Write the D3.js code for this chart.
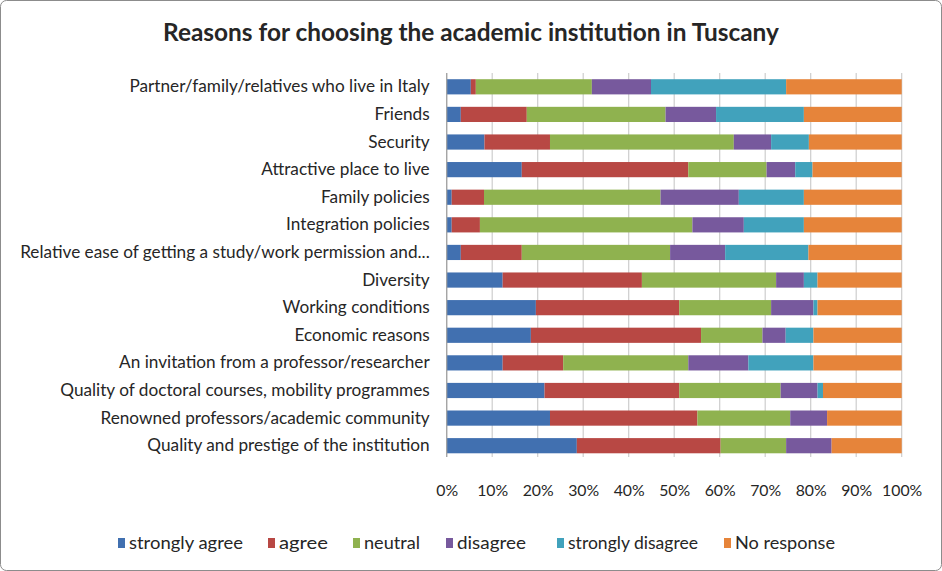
<!DOCTYPE html>
<html><head><meta charset="utf-8">
<script src="https://cdn.jsdelivr.net/npm/d3@7"></script>
<style>
body{margin:0;background:#fff;}
text{font-family:Lato,"Open Sans",sans-serif;fill:#262626;}
</style></head>
<body><svg id="c" width="942" height="571"></svg>
<script>
const categories = ["Partner/family/relatives who live in Italy","Friends","Security","Attractive place to live","Family policies","Integration policies","Relative ease of getting a study/work permission and...","Diversity","Working conditions","Economic reasons","An invitation from a professor/researcher","Quality of doctoral courses, mobility programmes","Renowned professors/academic community","Quality and prestige of the institution"];
const seriesNames = ["strongly agree","agree","neutral","disagree","strongly disagree","No response"];
const stronglyAgree   = [5.3, 3.1, 8.3, 16.5, 1.1, 1.1, 3.1, 12.3, 19.6, 18.5, 12.3, 21.5, 22.7, 28.6];
const agree           = [1.1, 14.5, 14.4, 36.6, 7.1, 6.2, 13.4, 30.6, 31.5, 37.4, 13.3, 29.6, 32.4, 31.6];
const neutral         = [25.5, 30.5, 40.4, 17.2, 38.8, 46.7, 32.6, 29.5, 20.2, 13.5, 27.5, 22.3, 20.4, 14.4];
const disagree        = [13.0, 11.1, 8.2, 6.3, 17.2, 11.3, 12.1, 6.1, 9.3, 5.1, 13.2, 8.1, 8.1, 10.0];
const stronglyDisagree= [29.7, 19.3, 8.3, 3.8, 14.3, 13.2, 18.3, 3.0, 0.9, 6.1, 14.3, 1.2, 0, 0];
const noResponse      = [25.4, 21.5, 20.4, 19.6, 21.5, 21.5, 20.5, 18.5, 18.5, 19.4, 19.4, 17.3, 16.4, 15.4];
const tickLabels = ["0%","10%","20%","30%","40%","50%","60%","70%","80%","90%","100%"];
const colors = ["#4170B0","#B84844","#8FB24F","#77599D","#41A2BC","#E6843A"];

const svg = d3.select("#c");
svg.append("rect").attr("x",0.5).attr("y",0.5).attr("width",941).attr("height",570)
  .attr("rx",6).attr("fill","#fff").attr("stroke","#8c8c8c");

const seriesArrays = [stronglyAgree, agree, neutral, disagree, stronglyDisagree, noResponse];
const rows = categories.map((c,i)=>{const o={cat:c}; seriesNames.forEach((s,j)=>o[s]=seriesArrays[j][i]); return o;});
const stack = d3.stack().keys(seriesNames).offset(d3.stackOffsetExpand);
const stacked = stack(rows);

const x = d3.scaleLinear().domain([0,1]).range([446.7,901.7]);
const y = d3.scaleBand().domain(categories).range([73,459.5]).paddingInner(0.45).paddingOuter(0.225);
const gridBottom = 457;

// gridlines
svg.append("g").selectAll("line").data(d3.range(0,1.01,0.1)).join("line")
  .attr("x1",d=>x(d)).attr("x2",d=>x(d)).attr("y1",73).attr("y2",gridBottom)
  .attr("stroke","#cdcdcd").attr("stroke-width",1.2);

// bars
svg.append("g").selectAll("g").data(stacked).join("g").attr("fill",(d,i)=>colors[i])
  .selectAll("rect").data(d=>d).join("rect")
  .attr("x",d=>x(d[0])).attr("width",d=>Math.max(0,x(d[1])-x(d[0])))
  .attr("y",d=>y(d.data.cat)).attr("height",y.bandwidth());

// y axis line
svg.append("line").attr("x1",x(0)).attr("x2",x(0)).attr("y1",73).attr("y2",gridBottom).attr("stroke","#a0a0a0").attr("stroke-width",1.2);

// x axis
const xAxis = d3.axisBottom(x).tickValues(d3.range(0,1.01,0.1)).tickFormat((d,i)=>tickLabels[i]).tickSize(0).tickPadding(28);
const xa = svg.append("g").attr("transform",`translate(0,${gridBottom})`).call(xAxis);
xa.select(".domain").remove();
xa.selectAll("text").attr("font-size",15.8).attr("font-family","Lato,sans-serif").attr("fill","#262626");

// y labels
const yAxis = d3.axisLeft(y).tickSize(0).tickPadding(17);
const ya = svg.append("g").attr("transform",`translate(${x(0)},0)`).call(yAxis);
ya.select(".domain").remove();
ya.selectAll("text").attr("font-size",17.2).attr("font-family","Lato,sans-serif").attr("fill","#262626");

// title
svg.append("text").attr("x",471).attr("y",41).attr("text-anchor","middle")
  .attr("font-size",24.4).attr("font-weight","bold").text("Reasons for choosing the academic institution in Tuscany");

// legend
const legX = [118,268,353,446,557,724];
const legW = [114,49,56,69,130,100];
const leg = svg.append("g").selectAll("g").data(seriesNames).join("g")
  .attr("transform",(d,i)=>`translate(${legX[i]},543)`);
leg.append("rect").attr("x",0).attr("y",-5).attr("width",7).attr("height",10).attr("fill",(d,i)=>colors[i]);
leg.append("text").attr("x",11).attr("y",6).attr("font-size",17.5)
  .attr("textLength",(d,i)=>legW[i]).attr("lengthAdjust","spacingAndGlyphs").text(d=>d);
</script></body></html>
